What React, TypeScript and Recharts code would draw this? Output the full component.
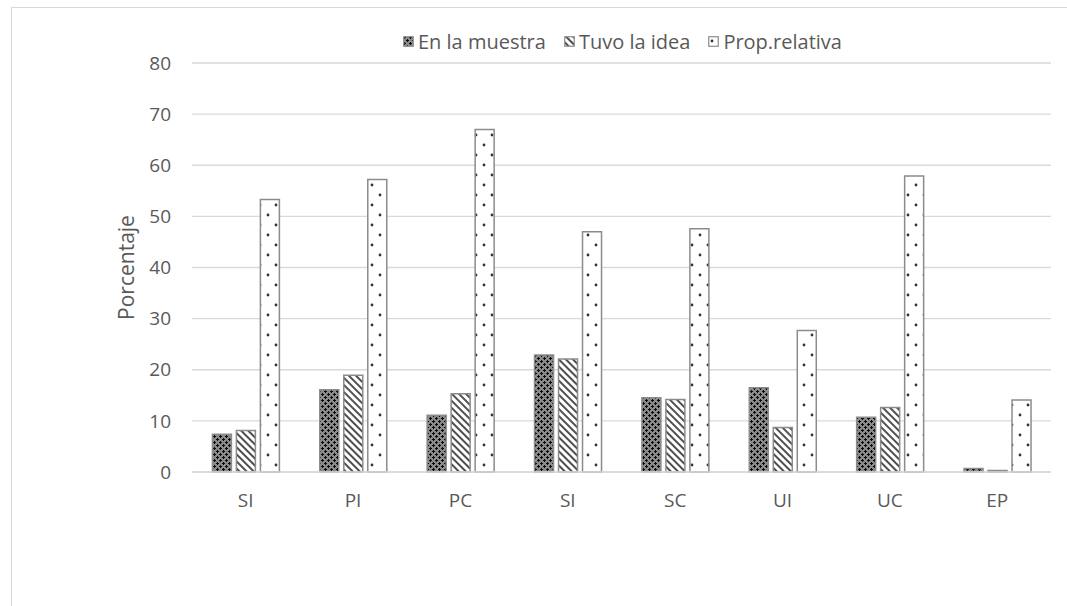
import { BarChart, Bar, XAxis, YAxis, CartesianGrid } from 'recharts';

// categorías y valores
const categorias = ['SI', 'PI', 'PC', 'SI', 'SC', 'UI', 'UC', 'EP'];
const enLaMuestra = [7.4, 16.1, 11.1, 22.9, 14.5, 16.5, 10.7, 0.7];
const tuvoLaIdea = [8.1, 18.9, 15.3, 22.1, 14.2, 8.7, 12.6, 0.3];
const propRelativa = [53.3, 57.2, 67.0, 47.0, 47.6, 27.7, 57.9, 14.1];
const yTicks = [0, 10, 20, 30, 40, 50, 60, 70, 80];

const data = categorias.map((c, i) => ({
  cat: c + '_' + i,
  label: c,
  muestra: enLaMuestra[i],
  idea: tuvoLaIdea[i],
  prop: propRelativa[i],
}));

const FONT = '"Open Sans", sans-serif';
const GRAY_TEXT = '#595959';
const BAR_STROKE = '#8c8c8c';

// patrones de relleno estilo Excel
const Patterns = ({ prefix }) => (
  <defs>
    <pattern id={prefix + 'muestra'} width="6" height="6" patternUnits="userSpaceOnUse">
      <rect width="6" height="6" fill="#8a8a8a" />
      <rect x="0" y="1" width="3" height="1" fill="#0a0a0a" />
      <rect x="1" y="0" width="1" height="3" fill="#0a0a0a" />
      <rect x="3" y="4" width="3" height="1" fill="#0a0a0a" />
      <rect x="4" y="3" width="1" height="3" fill="#0a0a0a" />
    </pattern>
    <pattern id={prefix + 'idea'} width="5" height="5" patternUnits="userSpaceOnUse" patternTransform="rotate(-45)">
      <rect width="5" height="5" fill="#fff" />
      <line x1="1" y1="0" x2="1" y2="5" stroke="#222" strokeWidth="1.6" />
    </pattern>
    <pattern id={prefix + 'prop'} width="16" height="20" patternUnits="userSpaceOnUse">
      <rect width="16" height="20" fill="#fff" />
      <circle cx="4" cy="5" r="1.4" fill="#333" />
      <circle cx="12" cy="15" r="1.4" fill="#333" />
    </pattern>
  </defs>
);

const legendItems = [
  { key: 'muestra', name: 'En la muestra' },
  { key: 'idea', name: 'Tuvo la idea' },
  { key: 'prop', name: 'Prop.relativa' },
];

const Leyenda = () => (
  <div
    style={{
      position: 'absolute', left: 403, top: 28, display: 'flex', alignItems: 'center',
      fontFamily: FONT, fontSize: 20, color: GRAY_TEXT, whiteSpace: 'nowrap',
    }}
  >
    <svg width="0" height="0" style={{ position: 'absolute' }}>
      <Patterns prefix="lg-" />
    </svg>
    {legendItems.map((it) => (
      <div key={it.key} style={{ display: 'flex', alignItems: 'center', marginRight: 18 }}>
        <svg width="11" height="11" style={{ marginRight: 4 }}>
          <rect x="0.75" y="0.75" width="9.5" height="9.5" fill={`url(#lg-${it.key})`} stroke={BAR_STROKE} strokeWidth="1.2" />
        </svg>
        <span>{it.name}</span>
      </div>
    ))}
  </div>
);

export default function App() {
  return (
    <div style={{ position: 'absolute', left: 0, top: 0, width: 1067, height: 606, overflow: 'hidden', background: '#fff' }}>
      <div style={{ position: 'absolute', left: 11, top: 7, width: 1070, height: 640, border: '1px solid #d9d9d9' }} />
      <div style={{ position: 'absolute', left: 0, top: 0 }}>
        <BarChart
          width={1067}
          height={606}
          data={data}
          margin={{ top: 63, right: 16, bottom: 104, left: 104 }}
          barCategoryGap="19%"
          barGap={5}
          style={{ fontFamily: FONT }}
        >
          <Patterns prefix="" />
          <CartesianGrid vertical={false} stroke="#d9d9d9" strokeWidth={1.3} />
          <XAxis
            dataKey="cat"
            height={30}
            tickFormatter={(v) => String(v).split('_')[0]}
            tickLine={false}
            tickSize={0}
            tickMargin={22}
            axisLine={{ stroke: '#d9d9d9', strokeWidth: 1.3 }}
            tick={{ fill: GRAY_TEXT, fontSize: 19 }}
            interval={0}
          />
          <YAxis
            width={88}
            domain={[0, 80]}
            ticks={yTicks}
            tickLine={false}
            tickSize={0}
            tickMargin={21}
            axisLine={false}
            tick={{ fill: GRAY_TEXT, fontSize: 19 }}
            label={{
              value: 'Porcentaje', angle: -90, position: 'insideLeft', offset: 23,
              fontSize: 21, fill: GRAY_TEXT,
              style: { textAnchor: 'middle', fill: GRAY_TEXT, fontSize: 21 },
            }}
          />
          <Bar dataKey="muestra" name="En la muestra" fill="url(#muestra)" stroke={BAR_STROKE} strokeWidth={1.5} isAnimationActive={false} />
          <Bar dataKey="idea" name="Tuvo la idea" fill="url(#idea)" stroke={BAR_STROKE} strokeWidth={1.5} isAnimationActive={false} />
          <Bar dataKey="prop" name="Prop.relativa" fill="url(#prop)" stroke={BAR_STROKE} strokeWidth={1.5} isAnimationActive={false} />
        </BarChart>
      </div>
      <Leyenda />
    </div>
  );
}
